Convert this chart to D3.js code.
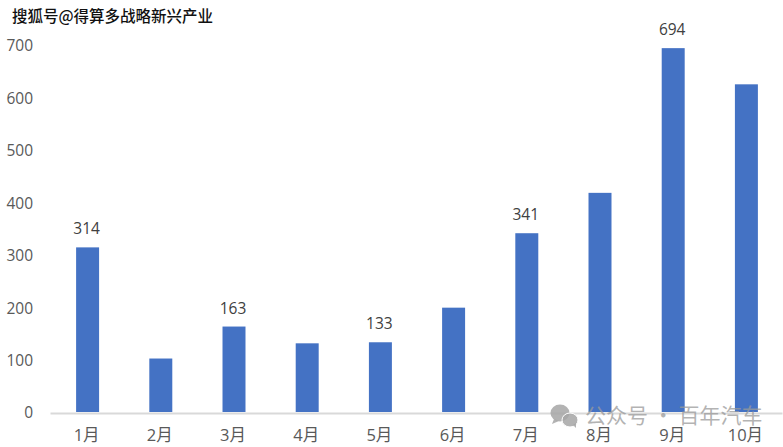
<!DOCTYPE html>
<html>
<head>
<meta charset="utf-8">
<script src="https://cdn.jsdelivr.net/npm/d3@7/dist/d3.min.js"></script>
<style>
  html, body { margin: 0; padding: 0; background: #fff; overflow: hidden; }
  text { font-family: "Open Sans", "Noto Sans CJK SC", sans-serif; }
</style>
</head>
<body>
<div id="viz"></div>
<script>
var months = ["1月", "2月", "3月", "4月", "5月", "6月", "7月", "8月", "9月", "10月"];
var sales = [314, 102, 163, 131, 133, 199, 341, 418, 694, 625];
var labelled = ["1月", "3月", "5月", "7月", "9月"];
var yTicks = [0, 100, 200, 300, 400, 500, 600, 700];

var svg = d3.select("#viz")
    .append("svg")
    .attr("width", 783)
    .attr("height", 447)
    .style("display", "block");

var x = d3.scaleBand().domain(months).range([51, 783]).paddingInner(0.686).paddingOuter(0.343);
var y = d3.scaleLinear().domain([0, 700]).range([412, 45]);

// bars
svg.selectAll("rect.bar")
    .data(months)
    .enter()
    .append("rect")
    .attr("class", "bar")
    .attr("x", function(d){ return x(d); })
    .attr("y", function(d, i){ return y(sales[i]); })
    .attr("width", x.bandwidth())
    .attr("height", function(d, i){ return y(0) - y(sales[i]); })
    .attr("fill", "#4472c4");

// axes
var yAxis = svg.append("g")
    .attr("transform", "translate(33,1)")
    .call(d3.axisLeft(y).tickValues(yTicks).tickSize(0).tickPadding(0));
yAxis.select(".domain").remove();
yAxis.selectAll("text").attr("font-size", 15.5).attr("fill", "#595959")
    .style("font-family", '"Open Sans", sans-serif');

var xAxis = svg.append("g")
    .attr("transform", "translate(-1,413)")
    .call(d3.axisBottom(x).tickSize(0).tickPadding(16));
xAxis.select(".domain").attr("stroke", "#d9d9d9").attr("stroke-width", 2);
xAxis.selectAll("text").attr("font-size", 16.5).attr("fill", "#595959");

// data labels, only some months have one
svg.selectAll("text.value")
    .data(months.filter(function(d){ return labelled.indexOf(d) >= 0; }))
    .enter()
    .append("text")
    .attr("class", "value")
    .attr("x", function(d){ return x(d) + x.bandwidth() / 2 - 1; })
    .attr("y", function(d){ return y(sales[months.indexOf(d)]) - 13; })
    .attr("text-anchor", "middle")
    .attr("font-size", 15.5)
    .attr("fill", "#404040")
    .text(function(d){ return sales[months.indexOf(d)]; });

// sohu watermark
svg.append("text")
    .attr("x", 12)
    .attr("y", 22)
    .attr("font-size", 15.5)
    .attr("font-weight", 500)
    .attr("fill", "#111")
    .attr("stroke", "#fff")
    .attr("stroke-width", 2)
    .attr("paint-order", "stroke")
    .style("font-family", '"Noto Sans CJK SC", sans-serif')
    .text("搜狐号@得算多战略新兴产业");

// wechat watermark
var wm = svg.append("g").attr("fill", "#a6a6a6").attr("fill-opacity", 0.85);
wm.append("ellipse").attr("cx", 560).attr("cy", 413).attr("rx", 9.5).attr("ry", 8.5);
wm.append("path").attr("d", "M554 419 L552 424 L559 421 Z");
wm.append("ellipse").attr("cx", 570).attr("cy", 420).attr("rx", 8).attr("ry", 7)
    .attr("stroke", "#fff").attr("stroke-width", 1);
wm.append("path").attr("d", "M573 425 L576 428 L576 423 Z");
svg.append("text")
    .attr("x", 585)
    .attr("y", 423)
    .attr("font-size", 21)
    .attr("fill", "#9a9a9a")
    .attr("fill-opacity", 0.75)
    .style("font-family", '"Noto Sans CJK SC", sans-serif')
    .text("公众号 · 百年汽车");
</script>
</body>
</html>
